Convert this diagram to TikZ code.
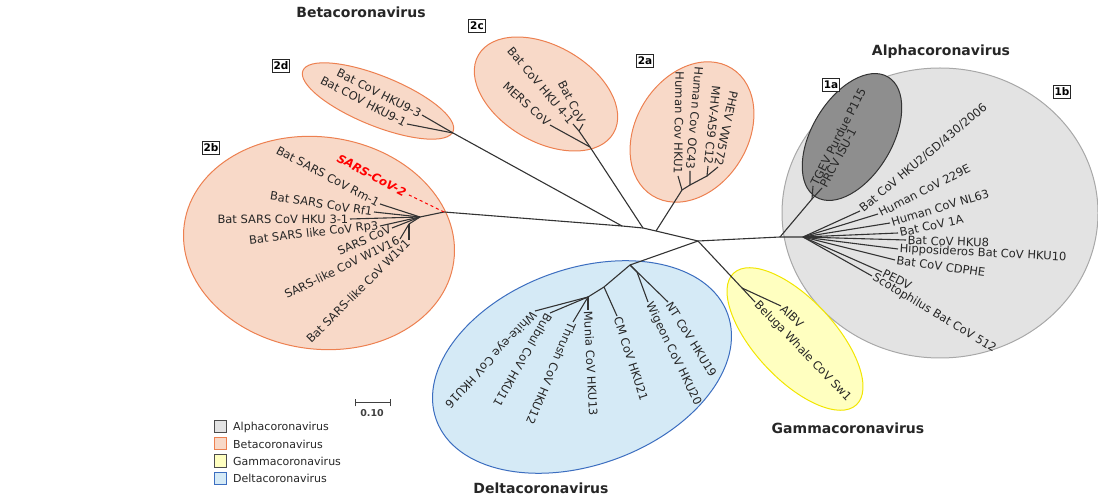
\documentclass[tikz,border=0pt]{standalone}
\usepackage{fontspec}
\setmainfont{DejaVu Sans}
\usetikzlibrary{shapes.geometric}
\definecolor{betaF}{HTML}{F8D9C8}
\definecolor{betaD}{HTML}{ED8050}
\definecolor{alphaF}{HTML}{E3E3E3}
\definecolor{alphaD}{HTML}{A8A8A8}
\definecolor{oneaF}{HTML}{8E8E8E}
\definecolor{oneaD}{HTML}{333333}
\definecolor{gamF}{HTML}{FFFFC0}
\definecolor{gamD}{HTML}{F2E600}
\definecolor{delF}{HTML}{D5EAF6}
\definecolor{delD}{HTML}{3C6EC0}
\definecolor{brc}{HTML}{333333}
\tikzset{
  br/.style={draw=brc, line width=1.1pt},
  lab/.style={font=\fontsize{11.5}{13}\selectfont, inner sep=1.5pt, text=black!85},
  ttl/.style={font=\bfseries\fontsize{14}{16}\selectfont, text=black!85},
  boxlab/.style={draw=black!85, line width=1pt, fill=white, font=\bfseries\fontsize{10.5}{12}\selectfont, inner sep=1.5pt, minimum height=13pt},
  oval/.style={ellipse, inner sep=0pt, line width=1pt},
  legbox/.style={minimum width=12pt, minimum height=12pt, inner sep=0pt, line width=1pt},
  legtxt/.style={font=\fontsize{11}{12}\selectfont, anchor=west, inner sep=0pt, text=black!85},
}
\begin{document}
\begin{tikzpicture}[x=1pt,y=-1pt]
\useasboundingbox (0,0) rectangle (1098,502);
% ---------- ellipses ----------
\node[oval, draw=alphaD, fill=alphaF, minimum width=316pt, minimum height=290pt] (e1b) at (940,213) {};
\node[oval, draw=oneaD, fill=oneaF, minimum width=140pt, minimum height=80pt, rotate=59] (e1a) at (852,137) {};
\node[oval, draw=betaD, fill=betaF, minimum width=272pt, minimum height=212pt, rotate=-8] (e2b) at (319,243) {};
\node[oval, draw=betaD, fill=betaF, minimum width=162pt, minimum height=50pt, rotate=-22] (e2d) at (378,101) {};
\node[oval, draw=betaD, fill=betaF, minimum width=156pt, minimum height=96pt, rotate=-30] (e2c) at (546,94) {};
\node[oval, draw=betaD, fill=betaF, minimum width=150pt, minimum height=112pt, rotate=58] (e2a) at (692,132) {};
\node[oval, draw=delD, fill=delF, minimum width=310pt, minimum height=196pt, rotate=20] (edel) at (582,367) {};
\node[oval, draw=gamD, fill=gamF, minimum width=180pt, minimum height=80pt, rotate=-47] (egam) at (795,339) {};
% ---------- internal coordinates ----------
\coordinate (c0) at (698,241);
\coordinate (b1) at (656,231);
\coordinate (b2) at (643,228);
\coordinate (b3) at (622,226);
\coordinate (sb) at (444,212);
\coordinate (sc) at (420,217);
\coordinate (sd) at (409,224);
\coordinate (d2n) at (453,133);
\coordinate (c2n) at (590,147);
\coordinate (c2m) at (579,131);
\coordinate (a2n) at (682,190);
\coordinate (a2m) at (690,185);
\coordinate (a2k) at (707,176);
\coordinate (a1) at (780,237);
\coordinate (a2) at (803,237);
\coordinate (a1a) at (812,199);
\coordinate (g1) at (742,288);
\coordinate (d1) at (630,265);
\coordinate (dw) at (637,272);
\coordinate (d3) at (604,287);
\coordinate (d4) at (588,297);
% ---------- leaf ends ----------
\coordinate (lcov2) at (407,194);
\coordinate (lrm) at (380,204);
\coordinate (lrf) at (374,212);
\coordinate (lhku3) at (350,219);
\coordinate (lrp3) at (380,226);
\coordinate (lsars) at (392,228);
\coordinate (lw16) at (400,239);
\coordinate (lw1) at (409,240);
\coordinate (l93) at (422,115);
\coordinate (l91) at (407,124);
\coordinate (lmers) at (550,125);
\coordinate (lhku4) at (573,124);
\coordinate (lbat) at (583,124);
\coordinate (lhku1) at (678,176);
\coordinate (loc43) at (690,171);
\coordinate (lmhv) at (708,166);
\coordinate (lphev) at (718,167);
\coordinate (ltgev) at (813,186);
\coordinate (lprcv) at (822,188);
\coordinate (lhku2) at (860,211);
\coordinate (l229) at (878,214);
\coordinate (lnl63) at (890,223);
\coordinate (l1a) at (898,233);
\coordinate (lhku8) at (906,240);
\coordinate (lhku10) at (898,249);
\coordinate (lcdp) at (895,260);
\coordinate (lpedv) at (882,272);
\coordinate (lscot) at (872,276);
\coordinate (laibv) at (781,306);
\coordinate (lbel) at (755,302);
\coordinate (lnt) at (668,302);
\coordinate (lwig) at (648,302);
\coordinate (lcm) at (617,316);
\coordinate (lmun) at (588,310);
\coordinate (lthr) at (573,322);
\coordinate (lbul) at (550,313);
\coordinate (lwhi) at (535,311);
% ---------- branches ----------
\draw[br] (c0) -- (b1) -- (b2) -- (b3) -- (sb) -- (sc) -- (sd);
\draw[br] (b1) -- (a2n);
\draw[br] (b2) -- (c2n);
\draw[br] (b3) -- (d2n);
\draw[br] (c0) -- (a1) -- (a2);
\draw[br] (a1) -- (a1a);
\draw[br] (c0) -- (g1);
\draw[br] (c0) -- (d1);
% 2b
\draw[red, dashed, line width=1pt] (sb) -- (lcov2);
\draw[br] (sc) -- (lrm);
\draw[br] (sc) -- (lrf);
\draw[br] (sc) -- (lhku3);
\draw[br] (sc) -- (lrp3);
\draw[br] (sc) -- (lsars);
\draw[br] (sd) -- (lw16);
\draw[br] (sd) -- (lw1);
% 2d
\draw[br] (d2n) -- (l93);
\draw[br] (d2n) -- (l91);
% 2c
\draw[br] (c2n) -- (lmers);
\draw[br] (c2n) -- (c2m) -- (lhku4);
\draw[br] (c2m) -- (lbat);
% 2a
\draw[br] (a2n) -- (lhku1);
\draw[br] (a2n) -- (a2m) -- (loc43);
\draw[br] (a2m) -- (a2k) -- (lmhv);
\draw[br] (a2k) -- (lphev);
% alpha
\draw[br] (a1a) -- (ltgev);
\draw[br] (a1a) -- (lprcv);
\foreach \e in {lhku2,l229,lnl63,l1a,lhku8,lhku10,lcdp,lpedv,lscot} \draw[br] (a2) -- (\e);
% gamma
\draw[br] (g1) -- (laibv);
\draw[br] (g1) -- (lbel);
% delta
\draw[br] (d1) -- (lnt);
\draw[br] (d1) -- (dw) -- (lwig);
\draw[br] (d1) -- (d3) -- (d4);
\draw[br] (d3) -- (lcm);
\foreach \e in {lmun,lthr,lbul,lwhi} \draw[br] (d4) -- (\e);
% ---------- labels ----------
\node[lab, anchor=east, rotate=-28, text=red, font=\bfseries\itshape\fontsize{11.5}{13}\selectfont] (tcov2) at (lcov2) {SARS-CoV-2};
\node[lab, anchor=east, rotate=-28] (trm) at (lrm) {Bat SARS CoV Rm-1};
\node[lab, anchor=east, rotate=-9] (trf) at (lrf) {Bat SARS CoV Rf1};
\node[lab, anchor=east, rotate=0] (thku3) at (lhku3) {Bat SARS CoV HKU 3-1};
\node[lab, anchor=east, rotate=6.5] (trp3) at (lrp3) {Bat SARS like CoV Rp3};
\node[lab, anchor=east, rotate=24] (tsars) at (lsars) {SARS CoV};
\node[lab, anchor=east, rotate=26] (tw16) at (lw16) {SARS-like CoV W1V16};
\node[lab, anchor=east, rotate=45] (tw1) at (lw1) {Bat SARS-like CoV W1v1};
\node[lab, anchor=east, rotate=-27] (t93) at (l93) {Bat CoV HKU9-3};
\node[lab, anchor=east, rotate=-27.5] (t91) at (l91) {Bat COV HKU9-1};
\node[lab, anchor=east, rotate=-42] (tmers) at (lmers) {MERS CoV};
\node[lab, anchor=east, rotate=-50] (thku4) at (lhku4) {Bat CoV HKU 4-1};
\node[lab, anchor=east, rotate=-63] (tbat) at (lbat) {Bat CoV};
\node[lab, anchor=east, rotate=-91] (thku1) at (lhku1) {Human Cov HKU1};
\node[lab, anchor=east, rotate=-95] (toc43) at (loc43) {Human Cov OC43};
\node[lab, anchor=east, rotate=-96] (tmhv) at (lmhv) {MHV-A59 C12};
\node[lab, anchor=east, rotate=-102] (tphev) at (lphev) {PHEV VW572};
\node[lab, anchor=west, rotate=63] (ttgev) at (ltgev) {TGEV Purdue P115};
\node[lab, anchor=west, rotate=62] (tprcv) at (lprcv) {PRCV ISU-1};
\node[lab, anchor=west, rotate=40] (thku2) at (lhku2) {Bat CoV HKU2/GD/430/2006};
\node[lab, anchor=west, rotate=27] (t229) at (l229) {Human CoV 229E};
\node[lab, anchor=west, rotate=17] (tnl63) at (lnl63) {Human CoV NL63};
\node[lab, anchor=west, rotate=12] (t1a) at (l1a) {Bat CoV 1A};
\node[lab, anchor=west, rotate=-2] (thku8) at (lhku8) {Bat CoV HKU8};
\node[lab, anchor=west, rotate=-3] (thku10) at (lhku10) {Hipposideros Bat CoV HKU10};
\node[lab, anchor=west, rotate=-8] (tcdp) at (lcdp) {Bat CoV CDPHE};
\node[lab, anchor=west, rotate=-27] (tpedv) at (lpedv) {PEDV};
\node[lab, anchor=west, rotate=-31] (tscot) at (lscot) {Scotophilus Bat CoV 512};
\node[lab, anchor=west, rotate=-43] (taibv) at (laibv) {AIBV};
\node[lab, anchor=west, rotate=-46] (tbel) at (lbel) {Beluga Whale CoV Sw1};
\node[lab, anchor=west, rotate=-58] (tnt) at (lnt) {NT CoV HKU19};
\node[lab, anchor=west, rotate=-64] (twig) at (lwig) {Wigeon CoV HKU20};
\node[lab, anchor=west, rotate=-72] (tcm) at (lcm) {CM CoV HKU21};
\node[lab, anchor=west, rotate=-87] (tmun) at (lmun) {Munia CoV HKU13};
\node[lab, anchor=west, rotate=-113] (tthr) at (lthr) {Thrush CoV HKU12};
\node[lab, anchor=west, rotate=-120] (tbul) at (lbul) {Bulbul CoV HKU11};
\node[lab, anchor=west, rotate=-133] (twhi) at (lwhi) {White-eye CoV HKU16};
% ---------- titles & boxes ----------
\node[ttl] (hbeta) at (361,12) {Betacoronavirus};
\node[ttl] (halpha) at (941,52) {Alphacoronavirus};
\node[ttl] (hgam) at (848,428) {Gammacoronavirus};
\node[ttl] (hdel) at (541,488) {Deltacoronavirus};
\node[boxlab] (k1a) at (831,85) {1a};
\node[boxlab] (k1b) at (1062,92) {1b};
\node[boxlab] (k2a) at (645,61) {2a};
\node[boxlab] (k2b) at (211,148) {2b};
\node[boxlab] (k2c) at (477,26) {2c};
\node[boxlab] (k2d) at (281,66) {2d};
% ---------- scale bar ----------
\coordinate (s1) at (355,403);
\coordinate (s2) at (390,403);
\draw[black!75, line width=1pt] (s1) -- (s2);
\draw[black!75, line width=1pt] ([yshift=-3.5pt]s1) -- ([yshift=3.5pt]s1);
\draw[black!75, line width=1pt] ([yshift=-3.5pt]s2) -- ([yshift=3.5pt]s2);
\node[font=\bfseries\fontsize{9.5}{11}\selectfont, text=black!75] (sbl) at (372,413) {0.10};
% ---------- legend ----------
\node[legbox, draw=black!70, fill=alphaF] (lg1) at (220,427) {};
\node[legbox, draw=betaD, fill=betaF] (lg2) at (220,444) {};
\node[legbox, draw=black!70, fill=gamF] (lg3) at (220,461) {};
\node[legbox, draw=delD, fill=delF] (lg4) at (220,478) {};
\node[legtxt] (lt1) at (233,427) {Alphacoronavirus};
\node[legtxt] (lt2) at (233,444) {Betacoronavirus};
\node[legtxt] (lt3) at (233,461) {Gammacoronavirus};
\node[legtxt] (lt4) at (233,478) {Deltacoronavirus};
\end{tikzpicture}
\end{document}
